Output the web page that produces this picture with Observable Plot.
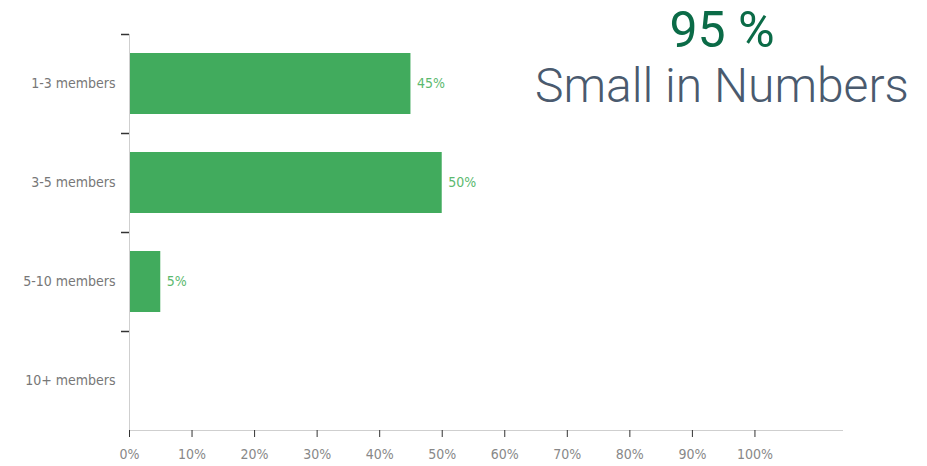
<!DOCTYPE html>
<html>
<head>
<meta charset="utf-8">
<script src="https://cdn.jsdelivr.net/npm/d3@7"></script>
<script src="https://cdn.jsdelivr.net/npm/@observablehq/plot@0.6"></script>
<style>
  html, body { margin: 0; padding: 0; background: #fff; }
  #wrap { position: relative; width: 927px; height: 466px; overflow: hidden; }
  .big { position: absolute; left: 522px; width: 400px; text-align: center; font-family: Roboto, sans-serif; white-space: nowrap; line-height: 1; }
  #t1 { top: 5px; font-size: 50px; color: #0b6b47; font-weight: 400; }
  #t2 { top: 62px; font-size: 48px; color: #4a5a6e; font-weight: 300; }
</style>
</head>
<body>
<div id="wrap">
  <div id="chart"></div>
  <div id="t1" class="big">95 %</div>
  <div id="t2" class="big">Small in Numbers</div>
</div>
<script>
const categories = ["1-3 members", "3-5 members", "5-10 members", "10+ members"];
const values = [45, 50, 5, 0];
const xTicks = [0, 10, 20, 30, 40, 50, 60, 70, 80, 90, 100];

const data = categories.map((c, i) => ({cat: c, value: values[i]}));

const W = 927, H = 466;
const mTop = 34, mBottom = 36, mLeft = 129, mRight = 85;
const step = (H - mTop - mBottom) / categories.length;

const chart = Plot.plot({
  width: W,
  height: H,
  marginTop: mTop,
  marginBottom: mBottom,
  marginLeft: mLeft,
  marginRight: mRight,
  style: {fontFamily: "'Liberation Sans Narrow', 'DejaVu Sans Condensed', sans-serif", fontSize: "14px", background: "#fff"},
  x: {domain: [0, 114], axis: null},
  y: {domain: categories, paddingInner: 0.38, paddingOuter: 0.19, axis: null},
  marks: [
    Plot.barX(data, {x: "value", y: "cat", fill: "#41ab5d"}),
    Plot.text(data.filter(d => d.value > 0), {x: "value", y: "cat", text: d => d.value + "%", textAnchor: "start", dx: 6, fill: "#5cb96f"}),
    Plot.frame({anchor: "left", stroke: "#cfcfcf"}),
    Plot.frame({anchor: "bottom", stroke: "#cfcfcf"}),
    Plot.axisX({ticks: xTicks, tickFormat: d => d + "%", tickSize: 7, tickPadding: 12, stroke: "#333", fill: "#888", label: null}),
    Plot.axisY({tickSize: 0, tickPadding: 14, fill: "#777", label: null}),
    Plot.axisY({tickSize: 8, tickFormat: () => "", stroke: "#333", strokeWidth: 1.5, dy: -step / 2, label: null})
  ]
});
document.getElementById("chart").appendChild(chart);
</script>
</body>
</html>
